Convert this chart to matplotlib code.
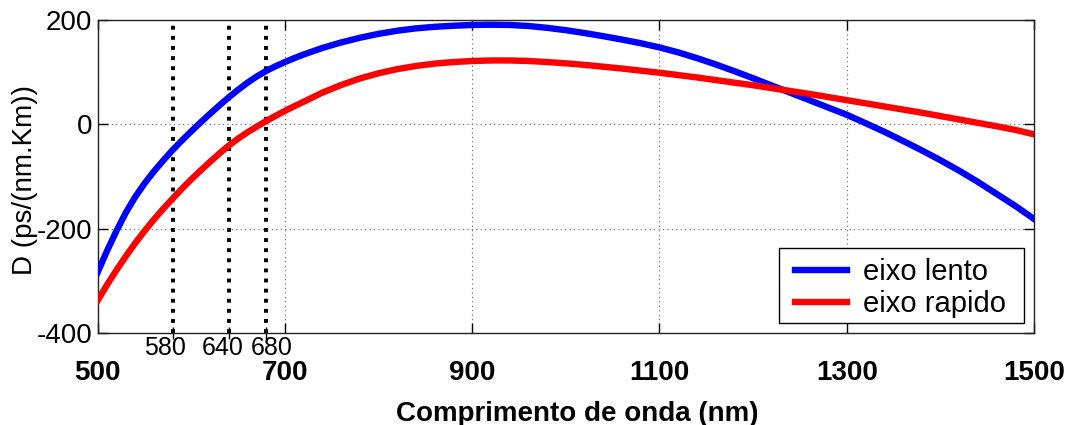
import matplotlib
matplotlib.use("Agg")
import matplotlib.pyplot as plt
from matplotlib.patches import Rectangle

plt.rcParams['font.family'] = ['Liberation Sans', 'DejaVu Sans']

# wavelength (nm) and dispersion D (ps/(nm.Km))
wl_slow = [500, 510, 520, 530, 540, 550, 560, 570, 580, 590, 600, 610, 620, 630, 640, 650,
           660, 670, 680, 690, 700, 710, 720, 740, 760, 780, 800, 820, 840, 860, 880, 900,
           920, 940, 960, 980, 1000, 1020, 1040, 1060, 1080, 1100, 1120, 1140, 1160, 1180,
           1200, 1220, 1240, 1260, 1280, 1300, 1320, 1340, 1360, 1380, 1400, 1420, 1440,
           1460, 1480, 1500]
slow = [-283, -242, -204, -169, -139, -113, -90, -69, -49, -30.5, -13, 4, 20.5, 36.5, 52, 66.5,
        80, 92, 102.5, 111.5, 119.5, 127, 134, 146.5, 157, 166, 173.5, 179.5, 184, 187, 189, 190.5,
        191, 190.5, 188.5, 185, 180.5, 175, 169, 162.5, 155.5, 147.5, 138, 127, 115, 102,
        88.5, 74.5, 60.5, 46.5, 32.5, 18.5, 2.5, -14, -31.5, -49.5, -68.5, -88.5, -110,
        -133, -156, -181]
wl_fast = [500, 510, 520, 530, 540, 550, 560, 570, 580, 590, 600, 610, 620, 630, 640, 650,
           660, 670, 680, 690, 700, 710, 720, 740, 760, 780, 800, 820, 840, 860, 880, 900,
           920, 940, 960, 980, 1000, 1020, 1040, 1060, 1080, 1100, 1120, 1140, 1160, 1180,
           1200, 1220, 1240, 1260, 1280, 1300, 1320, 1340, 1360, 1380, 1400, 1420, 1440,
           1460, 1480, 1500]
fast = [-337, -307, -279, -252.5, -227.5, -204, -182, -161.5, -142, -123, -105, -88, -71.5,
        -55.5, -40.5, -27, -15, -4, 6.5, 16.5, 26, 35, 43.5, 61, 75.5, 88, 98, 106, 112, 116.5,
        119.5, 121.5, 122.5, 122.5, 121.5, 119.5, 117, 114, 110.5, 107, 103, 99, 94.5, 90, 85,
        80, 75, 69.5, 64, 58.5, 52.5, 46.5, 40.5, 34.5, 28.5, 22.5, 16, 9.5, 3, -3.5, -10.5, -19]
markers = [580, 640, 680]
marker_labels = ['580', '640', '680']
marker_label_x = [572, 634, 685.5]
xticks = [500, 700, 900, 1100, 1300, 1500]
yticks = [-400, -200, 0, 200]

W, H = 1073, 425
fig = plt.figure(figsize=(W / 100, H / 100), dpi=100)
ax = fig.add_axes([97.7 / W, 1 - 333.3 / H, (1034 - 97.7) / W, (333.3 - 20) / H])

for m in markers:
    ax.axvline(m, color='black', linestyle=(0, (1, 1.6)), linewidth=2.8, zorder=1)

ax.plot(wl_slow, slow, color='#0000ff', linewidth=4.6, label='eixo lento', zorder=3)
ax.plot(wl_fast, fast, color='#ff0000', linewidth=4.6, label='eixo rapido', zorder=3)

ax.set_xlim(500, 1500)
ax.set_ylim(-400, 200)
ax.set_xticks(xticks)
ax.set_xticklabels([str(t) for t in xticks], fontsize=20, fontweight='bold')
ax.set_xticks(markers, minor=True)
ax.set_xticklabels(['' for _ in markers], minor=True)
ax.set_yticks(yticks)
ax.set_yticklabels([str(t) for t in yticks], fontsize=20)

ax.tick_params(axis='x', which='major', direction='in', length=7, pad=19, width=1)
ax.tick_params(axis='x', which='minor', direction='inout', length=9, width=1)
ax.tick_params(axis='y', which='major', direction='in', length=7, pad=4, width=1)
ax.tick_params(top=True, right=True, which='major')

for lx, lab in zip(marker_label_x, marker_labels):
    ax.text(lx, -0.069, lab, transform=ax.get_xaxis_transform(), ha='center',
            va='baseline', fontsize=18)

ax.grid(True, which='major', linestyle=(0, (1, 3)), color='#666666', linewidth=0.8)

ax.set_xlabel('Comprimento de onda (nm)', fontsize=20, fontweight='bold')
ax.xaxis.set_label_coords(0.512, -0.215)
ax.set_ylabel('D (ps/(nm.Km))', fontsize=20)
ax.yaxis.set_label_coords(-0.064, 0.49)

# legend frame drawn as a plain box behind the legend entries
frame = Rectangle((779 / W, 1 - 323 / H), (1024 - 779) / W, (323 - 248) / H,
                  transform=fig.transFigure, facecolor='white', edgecolor='black',
                  linewidth=1.0, zorder=4, clip_on=False)
ax.add_patch(frame)

leg = ax.legend(loc='upper left', fontsize=21, frameon=False,
                handlelength=1.78, handletextpad=0.55, borderpad=0, labelspacing=0.14,
                borderaxespad=0, bbox_to_anchor=(795 / W, 1 - 258 / H),
                bbox_transform=fig.transFigure)
leg.set_zorder(6)

for s in ax.spines.values():
    s.set_linewidth(1.0)
    s.set_color('#222222')

fig.savefig('out.png', dpi=100)
